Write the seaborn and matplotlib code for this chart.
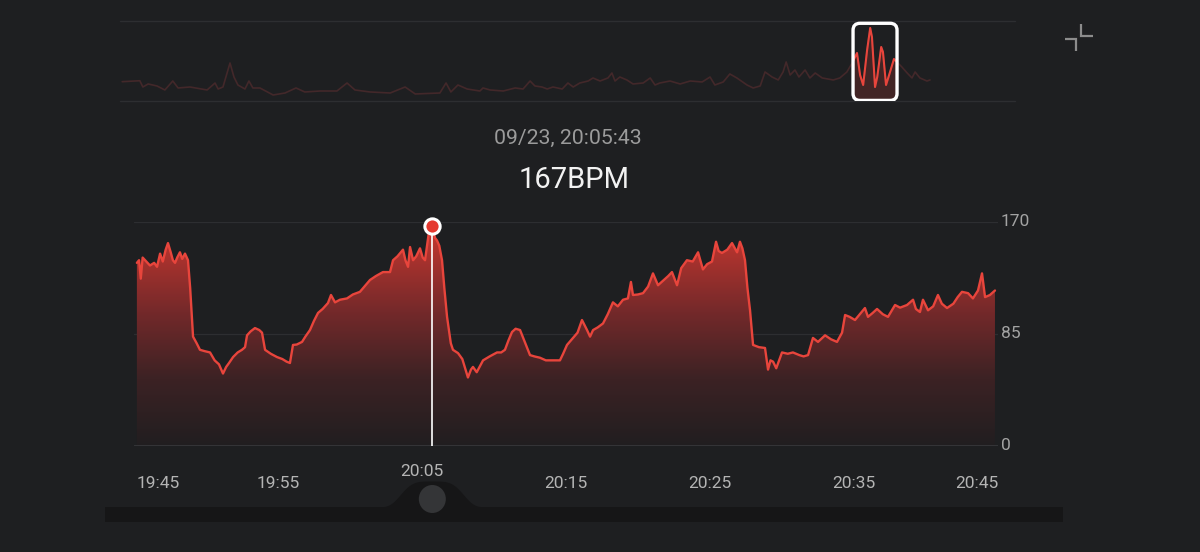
import numpy as np
import pandas as pd
import matplotlib
matplotlib.use("Agg")
import matplotlib.pyplot as plt
import matplotlib.transforms as mtransforms
import seaborn as sns
from matplotlib.patches import PathPatch, FancyBboxPatch, Rectangle, Ellipse, Polygon
from matplotlib.path import Path
from matplotlib.lines import Line2D
from matplotlib.colors import LinearSegmentedColormap

# --- data -----------------------------------------------------------------
# main chart: minutes after 19:45 and heart rate (bpm)
hr_minutes = [
    0.2, 0.35, 0.47, 0.6, 0.85, 1.11, 1.4, 1.6, 1.81, 2.0, 2.2, 2.36, 2.55, 2.7, 2.85,
    3.0, 3.19, 3.35, 3.54, 3.75, 3.9, 4.1, 4.35, 4.58, 4.9, 5.28, 5.6, 5.9, 6.18, 6.4,
    6.6, 6.88, 7.2, 7.5, 7.71, 7.85, 8.1, 8.4, 8.7, 8.89, 9.1, 9.5, 9.93, 10.3, 10.6,
    10.83, 11.04, 11.3, 11.67, 11.9, 12.22, 12.5, 12.78, 13.1, 13.47, 13.68, 13.96, 14.3,
    14.79, 15.2, 15.69, 16.0, 16.39, 16.8, 17.29, 17.78, 17.99, 18.3, 18.68, 18.85, 19.03,
    19.17, 19.38, 19.6, 19.86, 20.05, 20.21, 20.45, 20.72, 20.9, 21.04, 21.2, 21.39, 21.55,
    21.74, 22.0, 22.15, 22.5, 22.8, 23.19, 23.4, 23.54, 23.8, 24.24, 24.7, 25.21, 25.5,
    25.76, 26.0, 26.25, 26.5, 26.81, 27.1, 27.5, 27.8, 28.19, 28.6, 29.1, 29.58, 29.8,
    30.07, 30.49, 30.8, 31.11, 31.46, 31.67, 31.88, 32.2, 32.57, 32.9, 33.26, 33.6, 33.96,
    34.3, 34.51, 34.65, 35.0, 35.35, 35.7, 36.04, 36.39, 36.8, 37.1, 37.36, 37.71, 38.0,
    38.4, 38.8, 39.17, 39.51, 39.8, 40.14, 40.42, 40.6, 40.83, 41.2, 41.53, 41.88, 42.08,
    42.25, 42.43, 42.6, 42.78, 42.99, 43.4, 43.82, 44.03, 44.2, 44.38, 44.6, 45.0, 45.4,
    45.76, 46.2, 46.5, 46.81, 47.15, 47.5, 47.99, 48.4, 48.82, 49.17, 49.38, 49.7, 50.07,
    50.4, 50.76, 50.97, 51.3, 51.6, 52.0, 52.36, 52.85, 53.2, 53.68, 54.1, 54.3, 54.58,
    54.79, 55.14, 55.5, 55.83, 56.1, 56.46, 56.9, 57.2, 57.5, 57.92, 58.26, 58.61, 58.89,
    59.1, 59.44, 59.79,
]
hr_bpm = [
    139, 141, 127, 143, 140, 137, 139, 136, 146, 140, 149, 154, 147, 141, 139,
    143, 147, 142, 146, 141, 120, 83, 78, 73, 72, 71, 65, 62, 55, 60,
    63, 67.5, 71, 73, 75, 84, 87, 89.5, 88, 86, 73, 70, 67.5, 66, 64,
    63, 76.7, 77, 79, 83, 88, 95, 101, 104, 108.5, 114.6, 109, 111,
    112, 115, 117, 121, 126, 129, 132, 132, 141, 144, 149, 141, 136,
    151, 141, 144, 150, 143, 141, 160, 167, 158, 156, 152, 141, 120,
    98, 78, 73, 70.5, 66, 52, 58, 60, 56, 65, 68, 71, 71,
    73, 80, 86.5, 89, 88, 80, 69, 68, 67, 65, 65, 65, 70,
    76.7, 82, 86, 95.6, 88, 83, 88, 90, 93, 100, 109, 106, 111,
    112, 124.5, 114.6, 115, 116, 121, 131, 122, 126, 129, 132, 122, 135,
    141, 140, 147, 134, 138, 140, 155, 148, 146.5, 149, 154, 147, 155,
    150, 141, 120, 103, 76.7, 75, 74.4, 58, 65, 64, 59, 71, 70,
    71, 69, 68, 69, 82, 79, 84, 81, 79, 86, 99.4, 98, 95.6,
    100, 104.7, 98, 101, 104, 100, 98, 107, 105, 107, 111, 104, 101.7,
    111, 103, 106, 114.6, 108, 104.7, 108, 113, 117, 116, 112, 118, 131,
    113, 114.6, 118,
]
x_tick_minutes = [0, 10, 20, 30, 40, 50, 60]
x_tick_labels = ["19:45", "19:55", "20:05", "20:15", "20:25", "20:35", "20:45"]
y_ticks = [0, 85, 170]

sel_label = "09/23, 20:05:43"
sel_minute = 20 + 43 / 60
sel_bpm = 167

# overview strip: hour of day and heart rate
mini_hours = [
    3.14, 3.54, 3.61, 3.73, 3.93, 4.11, 4.29, 4.41, 4.68, 5.07, 5.25, 5.32, 5.43, 5.59,
    5.68, 5.77, 5.93, 6.02, 6.11, 6.27, 6.57, 6.84, 7.09, 7.29, 7.64, 8.02, 8.25, 8.43,
    8.77, 9.23, 9.57, 9.8, 10.36, 10.5, 10.61, 10.77, 10.98, 11.27, 11.34, 11.5, 11.8,
    12.07, 12.25, 12.41, 12.52, 12.68, 12.8, 12.93, 13.14, 13.27, 13.39, 13.54, 13.73,
    13.84, 14.0, 14.18, 14.27, 14.34, 14.45, 14.61, 14.75, 14.98, 15.14, 15.25, 15.36,
    15.59, 15.82, 16.05, 16.32, 16.5, 16.61, 16.8, 16.95, 17.11, 17.34, 17.48, 17.64,
    17.75, 17.91, 18.05, 18.16, 18.23, 18.32, 18.43, 18.52, 18.66, 18.77, 18.89, 19.05,
    19.3, 19.45, 19.61, 19.73, 19.84, 19.91, 19.98, 20.07, 20.14, 20.18, 20.25, 20.3,
    20.39, 20.43, 20.5, 20.57, 20.68, 20.77, 20.86, 20.98, 21.09, 21.16, 21.27, 21.43, 21.5,
]
mini_bpm = [
    73.8, 75.5, 64.5, 69.8, 66.3, 59.3, 75, 62.8, 64.5, 59.3, 71.5, 61, 64.5, 106.5,
    82, 68, 61, 75, 62.8, 62.8, 50.5, 54, 62.8, 55.8, 57.5, 57.5, 71.5, 59.3,
    55.8, 54, 64.5, 52.3, 54, 71.5, 55.8, 68, 61, 57.5, 62.8, 59.3, 57.5,
    62.8, 61, 75, 66.3, 64.5, 61, 64.5, 61, 71.5, 64.5, 71.5, 75,
    80.3, 75, 80.3, 89, 75, 82, 76.8, 69.8, 71.5, 80.3, 68, 71.5,
    75, 69.8, 75, 73.3, 82, 68, 73.3, 87.3, 80.3, 68, 62.8, 66.3,
    90.8, 82, 76.8, 90.8, 108.3, 85.5, 94.3, 82, 94.3, 80.3, 89, 80.3,
    76.8, 80.3, 90.8, 106.5, 124, 85.5, 68, 129.3, 167.8, 152, 64.5, 82,
    134.5, 125.8, 68, 85.5, 113.5, 106.5, 99.5, 89, 80.3, 90.8, 80.3, 75, 76.8,
]
win_start, win_end = 19.75, 20.75

# --- style ----------------------------------------------------------------
BG = "#1e1f21"
RED = "#e8453c"
W, H = 1200, 552

sns.set_theme(style="dark", rc={"axes.facecolor": BG, "figure.facecolor": BG})
plt.rcParams["font.family"] = ["Roboto", "DejaVu Sans"]


def fx(px):
    return px / W


def fy(py):
    return 1 - py / H


fig = plt.figure(figsize=(12, 5.52), dpi=100, facecolor=BG)

# --- main chart -----------------------------------------------------------
ax = fig.add_axes([fx(134), fy(446), (998 - 134) / W, (446 - 222) / H])
ax.set_facecolor("none")

df = pd.DataFrame({"minute": hr_minutes, "bpm": hr_bpm})

# gradient fill under the curve
cmap = LinearSegmentedColormap.from_list(
    "hr", [(0, "#211e20"), (0.3, "#3c2224"), (0.6, "#74292a"), (1, "#cc3830")])
grad = np.linspace(0, 1, 256).reshape(-1, 1)
im = ax.imshow(grad, extent=[0, 60, 0, 170], origin="lower", aspect="auto",
               cmap=cmap, zorder=1)
verts = [(df.minute.iloc[0], 0)] + list(zip(df.minute, df.bpm)) + [(df.minute.iloc[-1], 0)]
clip = PathPatch(Path(verts), transform=ax.transData, fc="none", ec="none")
ax.add_patch(clip)
im.set_clip_path(clip)

sns.lineplot(data=df, x="minute", y="bpm", ax=ax, color=RED, linewidth=1.7,
             estimator=None, sort=False, zorder=3)
ax.set_xlim(0, 60)
ax.set_ylim(0, 170)
ax.set_axis_off()

for yv in y_ticks[1:]:
    ax.axhline(yv, color="#2d2e31", lw=0.9, zorder=0)
ax.axhline(0, color="#3b3c3f", lw=1.8, zorder=4)

# selected point
ax.plot([sel_minute, sel_minute], [0, sel_bpm], color="white", lw=1.2, zorder=5)
ax.plot([sel_minute], [sel_bpm], marker="o", ms=11, mfc="#e5392f", mec="white",
        mew=2.2, clip_on=False, zorder=6)

ytrans = mtransforms.blended_transform_factory(ax.transAxes, ax.transData)
for yv in y_ticks:
    ax.text((1001 - 134) / 864, yv, str(yv), transform=ytrans, ha="left",
            va="center", fontsize=12.5, color="#a3a3a3")

xtrans = mtransforms.blended_transform_factory(ax.transData, ax.transAxes)
for i, (m, lab) in enumerate(zip(x_tick_minutes, x_tick_labels)):
    ha = "left" if i == 0 else ("right" if i == len(x_tick_labels) - 1 else "center")
    yy = (446 - 471) / 224 if lab == "20:05" else (446 - 483) / 224
    if i == 0:
        m = m + 0.2
    ax.text(m, yy, lab, transform=xtrans, ha=ha, va="center", fontsize=12.5,
            color="#b4b4b4")

# header texts
fig.text(fx(568), fy(138), sel_label, ha="center", va="center", fontsize=15.3,
         color="#9b9b9b")
fig.text(fx(574), fy(180), f"{sel_bpm}BPM", ha="center", va="center", fontsize=21,
         color="#f2f2f2")

# --- overview strip -------------------------------------------------------
mini = fig.add_axes([fx(120), fy(101), (1015 - 120) / W, 80 / H])
mini.set_facecolor("none")
mdf = pd.DataFrame({"hour": mini_hours, "bpm": mini_bpm})
sns.lineplot(data=mdf, x="hour", y="bpm", ax=mini, color="#43282a", linewidth=1.2,
             estimator=None, sort=False)
mini.set_xlim(3.09, 3.09 + 895 / 44)
mini.set_ylim(40, 180)
mini.set_axis_off()
mini.axhline(40, color="#2d2e31", lw=1.0, clip_on=False)
mini.axhline(180, color="#2d2e31", lw=1.0, clip_on=False)

x_per_px = (895 / 44) / 895
y_per_px = 140 / 80
asp = y_per_px / x_per_px
box = FancyBboxPatch((win_start, 41), win_end - win_start, 135,
                     boxstyle=f"round,pad=0,rounding_size={7 * x_per_px}",
                     mutation_aspect=asp, fc="none", ec="white", lw=2.4, zorder=5)
mini.add_patch(box)
fb = mini.fill_between(mdf.hour, mdf.bpm, 40, color=RED, alpha=0.18, lw=0, zorder=3)
fb.set_clip_path(box)
bright, = mini.plot(mdf.hour, mdf.bpm, color=RED, lw=1.5, zorder=4)
bright.set_clip_path(box)

# compress icon
icon = "#8c8c8c"
fig.add_artist(Line2D([fx(1081), fx(1081), fx(1093)], [fy(24), fy(35.5), fy(35.5)],
                      transform=fig.transFigure, color=icon, lw=1.6,
                      solid_joinstyle="miter", solid_capstyle="butt"))
fig.add_artist(Line2D([fx(1065), fx(1076), fx(1076)], [fy(39), fy(39), fy(51)],
                      transform=fig.transFigure, color=icon, lw=1.6,
                      solid_joinstyle="miter", solid_capstyle="butt"))

# --- slider ---------------------------------------------------------------
kx = ax.transData.transform((sel_minute, 0))[0]
fig.add_artist(Rectangle((fx(105), fy(522)), (1063 - 105) / W, 15 / H,
                         transform=fig.transFigure, color="#161617", lw=0))
dx = np.linspace(-62, 62, 200)
bump_h = 26 * np.exp(-(dx / 34) ** 4)
pts = [(fx(kx + d), fy(507.5 - h)) for d, h in zip(dx, bump_h)]
pts = [(fx(kx - 62), fy(508))] + pts + [(fx(kx + 62), fy(508))]
fig.add_artist(Polygon(pts, closed=True, transform=fig.transFigure,
                       color="#161617", lw=0))
fig.add_artist(Ellipse((fx(kx), fy(499)), 27 / W, 28 / H,
                       transform=fig.transFigure, color="#343537", lw=0))

fig.savefig("out.png", dpi=100, facecolor=BG)
